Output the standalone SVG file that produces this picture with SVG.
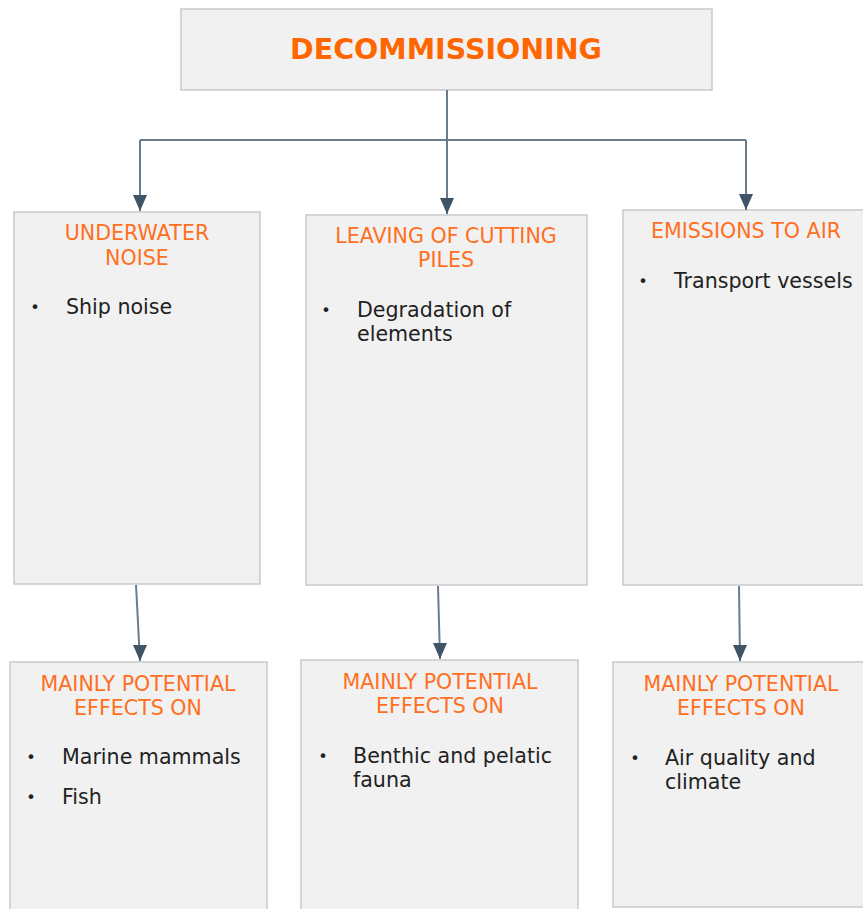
<svg xmlns="http://www.w3.org/2000/svg" width="863" height="909" viewBox="0 0 863 909">
<style>
.box{fill:#F1F1F1;stroke:#C9C9C9;stroke-width:1.5}
.head{font-family:"DejaVu Sans",Verdana,sans-serif;font-size:20.6px;fill:#FF6F1E;text-anchor:middle}
.title{font-family:"DejaVu Sans",Verdana,sans-serif;font-size:28.5px;font-weight:bold;fill:#FF6600;text-anchor:middle}
.body{font-family:"DejaVu Sans",Verdana,sans-serif;font-size:20.6px;fill:#222222}
.bul{font-family:"DejaVu Sans",Verdana,sans-serif;font-size:16px;fill:#222222;text-anchor:middle}
.conn{fill:none;stroke:#6A7C8C;stroke-width:2}
</style>
<defs>
<marker id="arrd" markerUnits="userSpaceOnUse" markerWidth="16" markerHeight="16" viewBox="-8 -16 16 16" refX="0" refY="0" orient="0">
<path d="M-7 -16 L7 -16 L0 0 Z" fill="#3F5467"/>
</marker>
</defs>
<g id="n-decommissioning">
<rect class="box" x="181" y="9" width="531" height="81"/>
<text class="title" x="446" y="59">DECOMMISSIONING</text>
</g>
<g id="n-underwater">
<rect class="box" x="14" y="212" width="246" height="372"/>
<text class="head" x="137" y="240">UNDERWATER</text>
<text class="head" x="137" y="265">NOISE</text>
<text class="bul" x="35" y="313">•</text>
<text class="body" x="66" y="314">Ship noise</text>
</g>
<g id="n-leaving">
<rect class="box" x="306" y="215" width="281" height="370"/>
<text class="head" x="446" y="243">LEAVING OF CUTTING</text>
<text class="head" x="446" y="267">PILES</text>
<text class="bul" x="326" y="316">•</text>
<text class="body" x="357" y="317">Degradation of</text>
<text class="body" x="357" y="341">elements</text>
</g>
<g id="n-emissions">
<rect class="box" x="623" y="210" width="260" height="375"/>
<text class="head" x="746" y="238">EMISSIONS TO AIR</text>
<text class="bul" x="643" y="287">•</text>
<text class="body" x="674" y="288">Transport vessels</text>
</g>
<g id="n-effects1">
<rect class="box" x="10" y="662" width="257" height="260"/>
<text class="head" x="138" y="691">MAINLY POTENTIAL</text>
<text class="head" x="138" y="715">EFFECTS ON</text>
<text class="bul" x="31" y="763">•</text>
<text class="body" x="62" y="764">Marine mammals</text>
<text class="bul" x="31" y="803">•</text>
<text class="body" x="62" y="804">Fish</text>
</g>
<g id="n-effects2">
<rect class="box" x="301" y="660" width="277" height="260"/>
<text class="head" x="440" y="689">MAINLY POTENTIAL</text>
<text class="head" x="440" y="713">EFFECTS ON</text>
<text class="bul" x="323" y="762">•</text>
<text class="body" x="353" y="763">Benthic and pelatic</text>
<text class="body" x="353" y="787">fauna</text>
</g>
<g id="n-effects3">
<rect class="box" x="613" y="662" width="270" height="245"/>
<text class="head" x="741" y="691">MAINLY POTENTIAL</text>
<text class="head" x="741" y="715">EFFECTS ON</text>
<text class="bul" x="635" y="764">•</text>
<text class="body" x="665" y="765">Air quality and</text>
<text class="body" x="665" y="789">climate</text>
</g>
<g id="connectors">
<path class="conn" d="M447 90 V140"/>
<path class="conn" d="M140 140 H746"/>
<path class="conn" d="M140 140 V211" marker-end="url(#arrd)"/>
<path class="conn" d="M447 140 V214" marker-end="url(#arrd)"/>
<path class="conn" d="M746 140 V210" marker-end="url(#arrd)"/>
<path class="conn" d="M136 585 L140 661" marker-end="url(#arrd)"/>
<path class="conn" d="M438 586 L440 659" marker-end="url(#arrd)"/>
<path class="conn" d="M739 586 L740 661" marker-end="url(#arrd)"/>
</g>
</svg>
